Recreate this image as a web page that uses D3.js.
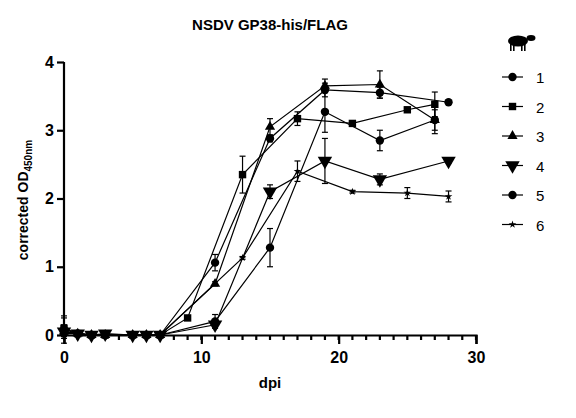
<!DOCTYPE html>
<html><head><meta charset="utf-8">
<script src="https://cdn.jsdelivr.net/npm/d3@7"></script>
<style>body{margin:0;background:#fff;font-family:Arial,"Liberation Sans",sans-serif}</style>
</head><body><svg id="c" width="576" height="418"></svg>
<script>
var days1 = [0, 1, 2, 3, 5, 6, 7, 11, 15, 19, 23, 28];
var vals1 = [0.08, 0.02, 0.0, 0.0, 0.0, 0.0, 0.0, 1.06, 2.88, 3.59, 3.55, 3.41];
var err1  = [0.2, 0.03, 0.02, 0.02, 0.02, 0.02, 0.02, 0.12, 0.05, 0.1, 0.08, 0.03];
var days2 = [0, 1, 2, 3, 5, 6, 7, 9, 13, 17, 21, 25, 27];
var vals2 = [0.1, 0.02, 0.0, 0.0, 0.0, 0.0, 0.0, 0.25, 2.35, 3.17, 3.1, 3.3, 3.38];
var err2  = [0.15, 0.03, 0.02, 0.02, 0.02, 0.02, 0.02, 0.03, 0.27, 0.1, 0.04, 0.03, 0.18];
var days3 = [0, 1, 2, 3, 5, 6, 7, 11, 15, 19, 23, 27];
var vals3 = [0.05, 0.02, 0.0, 0.0, 0.0, 0.0, 0.0, 0.75, 3.05, 3.65, 3.67, 3.15];
var err3  = [0.1, 0.03, 0.02, 0.02, 0.02, 0.02, 0.02, 0.03, 0.12, 0.1, 0.2, 0.15];
var days4 = [0, 1, 2, 3, 5, 6, 7, 11, 15, 19, 23, 28];
var vals4 = [0.05, 0.02, 0.0, 0.02, 0.0, 0.0, 0.0, 0.15, 2.1, 2.55, 2.28, 2.55];
var err4  = [0.05, 0.03, 0.02, 0.02, 0.02, 0.02, 0.02, 0.05, 0.1, 0.33, 0.08, 0.03];
var days5 = [0, 1, 2, 3, 5, 6, 7, 11, 15, 19, 23, 27];
var vals5 = [0.03, 0.02, 0.0, 0.0, 0.0, 0.0, 0.0, 0.2, 1.28, 3.27, 2.85, 3.15];
var err5  = [0.05, 0.03, 0.02, 0.02, 0.02, 0.02, 0.02, 0.1, 0.28, 0.3, 0.15, 0.2];
var days6 = [0, 1, 2, 3, 5, 6, 7, 13, 17, 21, 25, 28];
var vals6 = [0.02, 0.02, 0.0, 0.0, 0.0, 0.0, 0.0, 1.13, 2.4, 2.1, 2.08, 2.03];
var err6  = [0.03, 0.03, 0.02, 0.02, 0.02, 0.02, 0.02, 0.02, 0.15, 0.02, 0.08, 0.08];
var seriesNames = ["1", "2", "3", "4", "5", "6"];
var symbols = [d3.symbolCircle, d3.symbolSquare, d3.symbolTriangle, "down", d3.symbolCircle, d3.symbolStar];
var sizes = [55, 55, 45, 90, 55, 18];
var xTicks = [0, 10, 20, 30];
var yTicks = [0, 1, 2, 3, 4];

var all = [[days1, vals1, err1], [days2, vals2, err2], [days3, vals3, err3],
           [days4, vals4, err4], [days5, vals5, err5], [days6, vals6, err6]];

var svg = d3.select('#c');
var x = d3.scaleLinear().domain([0, 30]).range([64, 476]);
var y = d3.scaleLinear().domain([0, 4]).range([335, 62]);

svg.append('text').attr('x', 270).attr('y', 30).attr('text-anchor', 'middle')
  .attr('font-size', 15).attr('font-weight', 'bold').text('NSDV GP38-his/FLAG');

var xa = svg.append('g').attr('transform', 'translate(0,335)')
  .call(d3.axisBottom(x).tickValues(xTicks).tickSize(9).tickFormat(d3.format('d')));
xa.append('g').selectAll('line').data(d3.range(0, 31)).enter().append('line')
  .attr('x1', function(d) { return x(d); }).attr('x2', function(d) { return x(d); })
  .attr('y1', 0).attr('y2', 5).attr('stroke', '#000').attr('stroke-width', 2);
var ya = svg.append('g').attr('transform', 'translate(64,0)')
  .call(d3.axisLeft(y).tickValues(yTicks).tickSize(7).tickFormat(d3.format('d')));
[xa, ya].forEach(function(a) {
  a.selectAll('path,line').attr('stroke', '#000').attr('stroke-width', 2.2);
  a.selectAll('text').attr('font-size', 16).attr('font-weight', 'bold').attr('fill', '#000')
    .attr('font-family', 'Arial,Liberation Sans,sans-serif');
});
xa.selectAll('.tick text').attr('dy', '1em');
ya.select('.domain').attr('d', 'M0,' + y(4) + 'V335');

svg.append('text').attr('x', 270).attr('y', 388).attr('text-anchor', 'middle')
  .attr('font-size', 15).attr('font-weight', 'bold').text('dpi');
var yl = svg.append('text').attr('transform', 'translate(28,200) rotate(-90)')
  .attr('text-anchor', 'middle').attr('font-size', 14).attr('font-weight', 'bold');
yl.append('tspan').text('corrected OD');
yl.append('tspan').attr('font-size', 10).attr('dy', 4).text('450nm');

function sym(i) {
  if (symbols[i] === 'down') return d3.symbol().type(d3.symbolTriangle).size(sizes[i])();
  return d3.symbol().type(symbols[i]).size(sizes[i])();
}
var line = d3.line().x(function(d) { return x(d[0]); }).y(function(d) { return y(d[1]); });

all.forEach(function(s, i) {
  var pts = s[0].map(function(d, j) { return [d, s[1][j], s[2][j]]; });
  var g = svg.append('g');
  g.append('path').datum(pts).attr('d', line).attr('fill', 'none').attr('stroke', '#000').attr('stroke-width', 1.2);
  var e = g.selectAll('g.e').data(pts).enter().append('g');
  e.append('line').attr('x1', function(d) { return x(d[0]); }).attr('x2', function(d) { return x(d[0]); })
    .attr('y1', function(d) { return y(d[1] - d[2]); }).attr('y2', function(d) { return y(d[1] + d[2]); })
    .attr('stroke', '#000').attr('stroke-width', 1.2);
  [1, -1].forEach(function(sg) {
    e.append('line').attr('x1', function(d) { return x(d[0]) - 3; }).attr('x2', function(d) { return x(d[0]) + 3; })
      .attr('y1', function(d) { return y(d[1] + sg * d[2]); }).attr('y2', function(d) { return y(d[1] + sg * d[2]); })
      .attr('stroke', '#000').attr('stroke-width', 1.2);
  });
  g.selectAll('path.m').data(pts).enter().append('path').attr('d', sym(i))
    .attr('transform', function(d) { return 'translate(' + x(d[0]) + ',' + y(d[1]) + ')' + (symbols[i] === 'down' ? ' rotate(180)' : ''); })
    .attr('fill', '#000');
});

// legend
var sheep = svg.append('g').attr('transform', 'translate(508,36)');
sheep.append('ellipse').attr('cx', 10).attr('cy', 5).attr('rx', 10).attr('ry', 5.5).attr('fill', '#000');
sheep.append('ellipse').attr('cx', 23).attr('cy', 2).attr('rx', 4.5).attr('ry', 3).attr('fill', '#000');
[2, 5, 13, 16].forEach(function(lx) {
  sheep.append('rect').attr('x', lx).attr('y', 8).attr('width', 1.6).attr('height', 7).attr('fill', '#000');
});
seriesNames.forEach(function(n, i) {
  var ly = 77 + i * 29.5;
  svg.append('line').attr('x1', 502).attr('x2', 523).attr('y1', ly).attr('y2', ly).attr('stroke', '#000').attr('stroke-width', 1.2);
  svg.append('path').attr('d', sym(i)).attr('fill', '#000')
    .attr('transform', 'translate(512.5,' + ly + ')' + (symbols[i] === 'down' ? ' rotate(180)' : ''));
  svg.append('text').attr('x', 536).attr('y', ly + 6).attr('font-size', 15).text(n);
});
</script></body></html>
